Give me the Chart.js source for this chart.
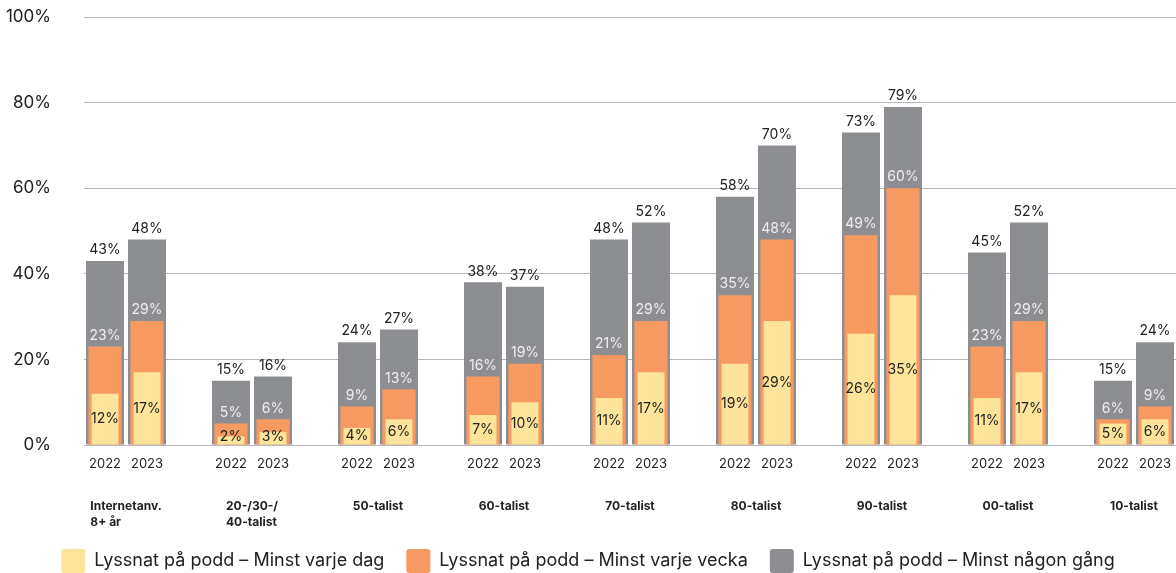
<!DOCTYPE html>
<html>
<head>
<meta charset="utf-8">
<script src="https://cdn.jsdelivr.net/npm/chart.js@4.4.1/dist/chart.umd.min.js"></script>
<style>
    html, body { margin: 0; padding: 0; background: #fff; overflow: hidden; }
    #wrap { width: 1176px; height: 573px; }
</style>
</head>
<body>
<div id="wrap"><canvas id="chart" width="1176" height="573"></canvas></div>
<script>
// Grupper och år
const groups = ['Internetanv.\n8+ år', '20-/30-/\n40-talist', '50-talist', '60-talist', '70-talist', '80-talist', '90-talist', '00-talist', '10-talist'];
const years = ['2022', '2023'];

// Värden per grupp: [2022, 2023]
const minstVarjeDag = [12, 17, 2, 3, 4, 6, 7, 10, 11, 17, 19, 29, 26, 35, 11, 17, 5, 6];
const minstVarjeVecka = [23, 29, 5, 6, 9, 13, 16, 19, 21, 29, 35, 48, 49, 60, 23, 29, 6, 9];
const minstNagonGang = [43, 48, 15, 16, 24, 27, 38, 37, 48, 52, 58, 70, 73, 79, 45, 52, 15, 24];

const yTicks = [0, 20, 40, 60, 80, 100];

const FONT = 'Inter, "Liberation Sans", sans-serif';
const TEXT = '#222222';

// Bygg x-kategorier: 2022, 2023, tom lucka mellan grupperna
const labels = [];
const spread = (vals) => {
    const out = [];
    groups.forEach((g, i) => {
        out.push(vals[i * 2], vals[i * 2 + 1]);
        if (i < groups.length - 1) out.push(null);
    });
    return out;
};
groups.forEach((g, i) => {
    labels.push(years[0], years[1]);
    if (i < groups.length - 1) labels.push('');
});

// Etiketter på staplarna
const valueLabels = {
    id: 'valueLabels',
    afterDatasetsDraw(chart) {
        const ctx = chart.ctx;
        ctx.save();
        ctx.font = '14px ' + FONT;
        ctx.textAlign = 'center';
        ctx.textBaseline = 'middle';
        chart.data.datasets.forEach((ds, di) => {
            const meta = chart.getDatasetMeta(di);
            meta.data.forEach((bar, i) => {
                const v = ds.data[i];
                if (v === null || v === undefined) return;
                if (di === 0) {
                    ctx.fillStyle = TEXT;
                    ctx.fillText(v + '%', bar.x, Math.min((bar.y + bar.base) / 2, bar.base - 8));
                } else if (di === 1) {
                    ctx.fillStyle = '#eeeeee';
                    ctx.fillText(v + '%', bar.x, bar.y - 11);
                } else {
                    ctx.fillStyle = TEXT;
                    ctx.fillText(v + '%', bar.x, bar.y - 11);
                }
            });
        });
        ctx.restore();
    }
};

// Gruppnamn under årtalen
const groupLabels = {
    id: 'groupLabels',
    afterDraw(chart) {
        const ctx = chart.ctx;
        const x = chart.scales.x;
        const base = chart.chartArea.bottom;
        ctx.save();
        ctx.font = 'bold 12px ' + FONT;
        ctx.fillStyle = TEXT;
        ctx.textBaseline = 'middle';
        ctx.textAlign = 'left';
        groups.forEach((g, i) => {
            const cx = (x.getPixelForValue(i * 3) + x.getPixelForValue(i * 3 + 1)) / 2;
            const lines = g.split('\n');
            const w = Math.max(...lines.map(l => ctx.measureText(l).width));
            lines.forEach((l, li) => {
                ctx.fillText(l, cx - w / 2, base + 61 + li * 16);
            });
        });
        ctx.restore();
    }
};

new Chart(document.getElementById('chart'), {
    type: 'bar',
    data: {
        labels: labels,
        datasets: [
            {
                label: 'Lyssnat på podd – Minst varje dag',
                data: spread(minstVarjeDag),
                backgroundColor: '#fde49a',
                barPercentage: 0.64,
                categoryPercentage: 1,
                grouped: false
            },
            {
                label: 'Lyssnat på podd – Minst varje vecka',
                data: spread(minstVarjeVecka),
                backgroundColor: '#f79a62',
                barPercentage: 0.79,
                categoryPercentage: 1,
                grouped: false
            },
            {
                label: 'Lyssnat på podd – Minst någon gång',
                data: spread(minstNagonGang),
                backgroundColor: '#8c8e92',
                barPercentage: 0.905,
                categoryPercentage: 1,
                grouped: false
            }
        ]
    },
    options: {
        responsive: false,
        animation: false,
        layout: { padding: { top: 17, right: 0, bottom: -10, left: 0 } },
        plugins: {
            tooltip: { enabled: false },
            legend: {
                position: 'bottom',
                labels: {
                    boxWidth: 24,
                    boxHeight: 24,
                    padding: 22,
                    color: TEXT,
                    font: { size: 18, family: FONT },
                    useBorderRadius: true,
                    borderRadius: 3
                }
            }
        },
        scales: {
            x: {
                grid: { display: false },
                border: { display: false },
                ticks: {
                    color: TEXT,
                    font: { size: 13, family: FONT },
                    padding: 3,
                    maxRotation: 0,
                    autoSkip: false
                },
                afterFit(axis) { axis.height = 82; }
            },
            y: {
                min: 0,
                max: 100,
                border: { display: false },
                grid: { color: '#b5b6b9', lineWidth: 1, drawTicks: false },
                afterBuildTicks(axis) { axis.ticks = yTicks.map(v => ({ value: v })); },
                ticks: {
                    color: TEXT,
                    font: { size: 17, family: FONT },
                    padding: 33,
                    callback: v => v + '%'
                },
                afterFit(axis) {
                    axis.width = 84;
                    axis.paddingTop = 9;
                    axis.paddingBottom = 9;
                }
            }
        }
    },
    plugins: [valueLabels, groupLabels]
});
</script>
</body>
</html>
